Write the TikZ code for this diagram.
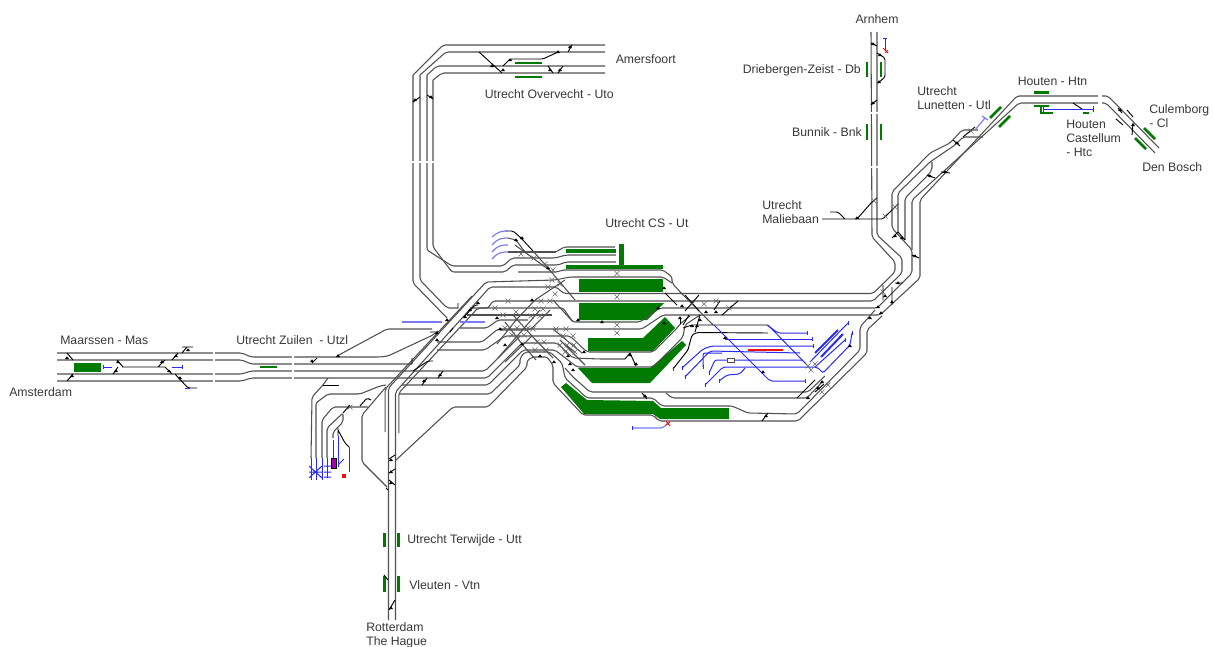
\documentclass[tikz,border=0pt]{standalone}
\usepackage{fontspec}
\setmainfont{Liberation Sans}
\definecolor{trk}{HTML}{505050}
\definecolor{plat}{HTML}{007A00}
\definecolor{yard}{HTML}{2A2AF0}
\definecolor{yardl}{HTML}{7A7AF5}
\definecolor{sig}{HTML}{F01010}
\tikzset{
 trk/.style={draw=trk,line width=0.8pt,rounded corners=1.6pt,line join=round},
 swt/.style={draw=black,line width=0.7pt,rounded corners=1.2pt},
 yd/.style={draw=yard,line width=0.75pt,rounded corners=1.6pt},
 ydl/.style={draw=yardl,line width=0.85pt,rounded corners=1.6pt},
 bar/.style={draw=plat,line width=1.9pt},
 lbl/.style={font=\fontsize{9.2pt}{10.4pt}\selectfont,text=black!78,inner sep=0pt,align=left},
 gp/.style={draw=white,line width=1.2pt}
}
\newcommand{\xm}[2]{\draw[draw=black!60,line width=0.5pt] (#1-2.5,#2-2.5)--(#1+2.5,#2+2.5) (#1-2.5,#2+2.5)--(#1+2.5,#2-2.5);}
\newcommand{\tip}[2]{\fill[black] (#1-2,#2+1)--(#1+2,#2+1)--(#1,#2-1.7)--cycle;}
\newcommand{\tend}[3]{\draw[#3,line width=0.6pt] (#1,#2-2)--(#1,#2+2);}
\begin{document}
\begin{tikzpicture}[x=0.75pt,y=-0.75pt]
\useasboundingbox (0,0) rectangle (1213,646);
% ---------- platforms
\fill[plat] (579,279) rectangle (663,292);
\fill[plat] (579,303)--(664,303)--(647,320)--(579,320)--cycle;
\fill[plat] (588,338)--(643,338)--(665,317)--(675,328)--(653,351)--(588,351)--cycle;
\fill[plat] (578,368)--(650,368)--(682,341)--(686,345)--(650,383)--(592,383)--cycle;
\fill[plat] (561,387)--(566,383)--(587,400)--(653,401)--(661,408)--(729,408)--(729,419)--(660,419)--(653,414)--(584,414)--cycle;
\fill[plat] (566,249) rectangle (616,253);
\fill[plat] (619,244) rectangle (624,266);
\fill[plat] (566,265) rectangle (663,268.5);
\fill[plat] (74,363) rectangle (101,372);
\draw[bar] (260,367)--(277,367);
\draw[bar] (515,63)--(542,63) (515,77)--(542,77);
\draw[bar] (867,62)--(867,77) (881,62)--(881,77) (867,124)--(867,140) (881,124)--(881,140);
\draw[bar] (384.5,533)--(384.5,547) (398.5,533)--(398.5,547) (384.5,576)--(384.5,592) (398.5,576)--(398.5,592);
\draw[bar] (1034,92.5)--(1049,92.5) (1034,106)--(1049,106) (1041,106)--(1041,113)--(1053,113) (1083,113)--(1089,113);
\draw[bar] (990,118)--(1001,107) (999,127)--(1010,116) (1144,128)--(1155,139) (1135,138)--(1146,149);
% ---------- west line
\draw[trk] (57,353)--(242,353)--(251,357)--(380,357)--(388,356)--(433,335)--(438,331);
\draw[trk] (57,360)--(242,360)--(251,364)--(412,364);
\draw[trk] (57,374)--(242,374)--(251,371)--(485,371)--(520,336);
\draw[trk] (57,381)--(242,381)--(251,378)--(487,378)--(522,343)--(557,343)--(573,358)--(600,359)--(625,359);
\draw[trk] (337,356)--(387,329)--(432,329);
\draw[trk] (402,385)--(488,385)--(523,350)--(555,350)--(577,367)--(653,367)--(683,337)--(685,325)--(700,315);
% ---------- double diagonal and verticals
\draw[trk] (413,75)--(443,45)--(605,45);
\draw[trk] (420,75)--(446,52)--(605,52);
\draw[trk] (427,75)--(437,66)--(605,66);
\draw[trk] (433,80)--(442,73)--(605,73);
\draw[trk] (413,75)--(413,283)--(447,318);
\draw[trk] (420,75)--(420,280)--(447,308)--(458,308);
\draw[trk] (427,75)--(427,250)--(452,266)--(503,266)--(512,258)--(555,258)--(566,255)--(616,255);
\draw[trk] (433,80)--(433,247)--(452,272)--(505,272)--(513,265)--(558,265)--(566,262)--(616,262);
\draw[trk] (385.2,432)--(385.2,389)--(472,296);
\draw[trk] (388.5,620)--(388.5,388)--(486,282)--(555,280)--(570,277)--(663,277)--(672,283);
\draw[trk] (395.5,620)--(395.5,392)--(490,287)--(556,287)--(564,293.5)--(873,293.5)--(895,272)--(895,262)--(872,237)--(871,32);
\draw[trk] (398.8,433)--(398.8,393)--(478,308)--(563,308)--(573,322)--(640,322)--(660,308)--(877,308)--(912,273)--(912,250)--(892,228)--(892,192)--(930,153)--(950,143)--(962,130)--(978,130);
% ---------- throat horizontals
\draw[trk] (470,308)--(488,308)--(493,301)--(873,301)--(902,273)--(902,258)--(877,235)--(877,32);
\draw[trk] (467,315)--(552,315);
\draw[trk] (460,328)--(487,328)--(498,320)--(528,320);
\draw[trk] (437,342)--(482,342)--(498,329)--(642,329)--(663,315)--(880,315)--(920,278)--(920,200)--(1017,96)--(1098,96);
\draw[trk] (437,350)--(485,350)--(505,336)--(570,336)--(587,352)--(653,352)--(678,327)--(680,324)--(690,316);
\draw[trk] (912,250)--(912,200)--(1019,103)--(1098,103);
\draw[trk] (898,232)--(898,193)--(930,162)--(955,145)--(963,137)--(983,137);
\draw[trk] (905,240)--(905,198)--(928,175)--(932,170)--(932,162);
\draw[trk] (1102,96)--(1108,96)--(1159,148) (1102,103)--(1106,103)--(1155,153);
\draw[trk] (875,310)--(860,327)--(860,350)--(797,414)--(748,413)--(732,406)--(662,406)--(653,398)--(587,398)--(565,378)--(562,363)--(550,352)--(525,352)--(520,358)--(520,365)--(490,394)--(399,394);
\draw[trk] (882,316)--(867,330)--(867,353)--(798,421)--(659,421)--(653,415)--(583,415)--(553,383)--(553,365)--(547,357)--(532,357)--(527,361)--(527,367)--(488,407)--(453,407)--(396,460);
\draw[trk] (565,368)--(573,377)--(590,392)--(808,392)--(825,376);
\draw[trk] (666,393)--(672,398)--(807,398)--(823,381);
\draw[trk] (518,272)--(558,272)--(562,270)--(663,270)--(672,277)--(672,283)--(682,294);
% Upper throat
\draw[swt] (505,231)--(513,231)--(521,238)--(533,251);
\draw[trk] (533,251)--(548,268)--(575,300);
\draw[trk] (508,238)--(516,240)--(525,252)--(556,252)--(564,247)--(615,247);
\draw[trk] (508,252)--(556,252);
\draw[trk] (515,245)--(552,272);
\draw[trk] (553,300)--(573,322) (513,315)--(532,336)--(553,358) (553,329)--(582,353) (505,322)--(522,344)--(536,360);
\draw[trk] (565,280)--(535,300)--(516,320)--(497,344) (550,310)--(530,330)--(500,330);
\draw[trk] (540,310)--(498,358) (532,336)--(505,362);
\draw[trk] (566,345)--(575,352) (560,340)--(585,365);
% east fan
\draw[trk] (680,292)--(713,325);
\draw[swt] (665,293)--(677,305) (685,295)--(699,311) (699,295)--(685,311) (720,301)--(714,310) (738,301)--(722,315) (689,315)--(683,325) (700,315)--(695,332);
\draw[swt] (683,328)--(692,325)--(767,325);
\draw[swt] (673,369)--(688,350)--(690,342)--(692,335)--(697,332.5)--(768,333);
\draw[swt] (680,324)--(680,318);
% ---------- Left-lower group
\draw[trk] (328,378)--(323,385)--(312,397)--(311,458);
\draw[swt] (323,385)--(339,385);
\draw[trk] (316,458)--(316,403)--(328,394)--(360,394)--(380,386)--(386,385);
\draw[trk] (322,458)--(322,420)--(333,407)--(368,407);
\draw[trk] (327,458)--(327,428)--(343,413)--(343,422)--(333,432)--(333,438);
\draw[trk] (386,387)--(362,415)--(362,462)--(387,487);
\draw[swt] (343,413)--(350,405) (360,406)--(367,398)--(371,400);
\draw[swt] (338,428)--(338,436) (338,430)--(345,443)--(349,447);
% ---------- crossovers and stubs
\draw[swt] (67,353)--(73,360) (67,381)--(73,374) (117,360)--(123,367) (113,374)--(118,367) (122,367)--(165,367) (178,353)--(172,360) (165,360)--(158,367) (165,367)--(172,374) (175,374)--(188,388)--(197,388) (182,347)--(193,347) (187,347)--(182,353);
\draw[swt] (312,363)--(317,358) (422,385)--(427,378) (438,378)--(443,371) (413,371)--(428,361)--(433,361);
\draw[swt] (430,332)--(436,332) (450,332)--(453,328) (464,317)--(475,305)--(478,305) (412,358)--(412,364) (458,308)--(458,303);
\draw[swt] (479,52)--(502,73) (503,66)--(510,59)--(543,59)--(558,52) (548,66)--(553,73) (563,66)--(558,73) (572,45)--(568,52);
\draw[swt] (413,102)--(420,97) (427,95)--(433,99);
\draw[swt] (871,43)--(877,46) (877,53)--(885,58)--(885,77)--(878,83) (871,105)--(877,100) (871,203)--(877,198);
\draw[swt] (822,219)--(883,219)--(892,210) (857,219)--(871,203) (892,210)--(898,204) (830,212)--(838,212)--(845,219);
\draw[swt] (892,238)--(898,232) (905,240)--(898,232) (912,255)--(919,258) (895,283)--(903,283) (883,285)--(883,300) (892,287)--(892,305);
\draw[swt] (927,175)--(935,178) (941,172)--(950,173) (953,140)--(960,146) (963,137)--(975,127);
\draw[swt] (1073,103)--(1082,109) (1118,108)--(1122,113) (1133,123)--(1132,135) (1127,110)--(1133,117) (1116,119)--(1123,125);
\draw[swt] (389,459)--(395,455) (389,473)--(395,469) (389,480)--(395,485) (389,610)--(395,600) (384,575)--(388,580) (386,488)--(388,490);
\draw[swt] (642,393)--(647,399) (630,353)--(625,359) (630,353)--(636,366);
\draw[swt] (797,398)--(815,380) (815,392)--(824,384);
\draw[swt] (762,421)--(768,413);
% ---------- yard
\draw[yd] (767,325)--(778,333)--(807,333);
\draw[yd] (725,339)--(812,339);
\draw[yd] (682,368)--(703,349)--(712,346)--(813,346);
\draw[yd] (685,377)--(710,351)--(800,353);
\draw[yd] (703,367)--(703,353)--(722,353);
\draw[yd] (709,373)--(715,360)--(727,360) (734,360)--(802,360);
\draw[yd] (705,385)--(723,367)--(817,367)--(823,373)--(850,345)--(852,333);
\draw[yd] (719,381)--(727,375)--(740,374)--(745,368);
\draw[yd] (714,325)--(763,374)--(770,381)--(805,381);
\draw[yd] (768,325)--(807,365);
\draw[yd] (810,362)--(848,323);
\draw[yd] (815,367)--(845,340);
\draw[yard,line width=1.5pt] (815,353)--(838,330) (821,357)--(843,334);
\foreach \a/\b in {807/333,812/339,813/346,805/381,673/369,682/368,685/377,703/367,709/373,705/385,719/381,848/323,845/340,852/333}{\tend{\a}{\b}{yard}}
\draw[draw=black!70,line width=0.6pt,fill=white] (727,358) rectangle (734,362);
\draw[sig,line width=2pt] (748,350)--(783,350);
\draw[ydl] (632,428)--(663,428)--(668,423);
\draw[sig,line width=0.7pt] (666,421)--(670,426) (666,425)--(670,422);
\draw[yd] (632,426)--(632,430);
% other blue
\draw[ydl] (492,237)--(497,233)--(503,231)--(508,231) (492,245)--(497,240)--(503,238)--(508,238) (492,252)--(497,247)--(503,245)--(508,245) (492,259)--(497,254)--(503,252)--(508,252);
\draw[ydl] (402,322)--(442,322) (460,322)--(485,322);
\draw[ydl] (975,130)--(985,118) (982,116)--(988,120);
\draw[yd] (1043,109)--(1093,109) (1043,106)--(1043,112) (1093,106)--(1093,112);
\draw[yd] (103,367)--(112,367) (172,367)--(182,367) (103,365)--(103,369) (182,365)--(182,369) (185,388)--(190,388);
\draw[yd] (311,458)--(311,480) (316,458)--(316,480) (322,458)--(322,480) (327,458)--(327,478) (333,440)--(333,458) (338,436)--(338,467) (349,447)--(349,472);
\draw[yd] (309,478)--(322,466) (309,466)--(322,478) (309,472)--(322,472) (324,466)--(331,466) (324,472)--(331,472) (324,477)--(331,477) (338,465)--(344,459);
\draw[yd] (885,38)--(885,50) (883,38)--(887,38);
\draw[sig,line width=0.7pt] (883,48)--(888,53) (885,53)--(888,50);
\fill[black] (330.5,457.5) rectangle (336.5,468.5);
\fill[violet!70!magenta] (331.5,458.5) rectangle (335.5,467.5);
\fill[sig] (342,474) rectangle (345.5,478);
% ---------- X marks
\foreach \a/\b in {617/273.5,617/297,617/325,617/333,521/254,534/258,545/264,553/270,552/280,548/287,560/284,555/294,550/301,541/301,535/309,543/309,531/316,540/316,505/328,517/328,528/328,512/335,524/335,533/329,556/329,566/329,563/336,573/336,537/342,544/342,535/350,546/350,560/345,567/345,574/345,565/352,575/352,495/308,508/301,503/315,516/312,692/304,704/304,716/301,729/308,883/292,811/370,808/366,815/364,822/392,828/385,874/201,885/216,895/207,971/131,350/407}{\xm{\a}{\b}}
% ---------- switch tips
\foreach \a/\b in {67/358,72/376,118/362,116/371,176/356,162/362,169/371,180/378,188/350,312/361,338/356,424/381,440/375,437/340,492/66,503/70,510/60,558/52,550/70,560/70,570/47,415/100,431/97,873/44,880/55,879/82,873/103,857/218,895/236,902/238,915/256,898/283,885/296,892/302,878/307,930/176,945/172,957/143,1120/110,1133/125,391/460,391/472,391/483,391/608,645/396,766/416,822/382,630/355,636/364,532/300,570/364,573/370,664/323,700/320,692/326,470/310,478/303,497/318,447/320,437/333,465/317,500/329,505/345,522/344,540/356,554/362,568/356,584/352,578/320,602/322,516/240,522/238,548/268,664/288,682/306,706/312,716/312,658/308,697/326,680/318,725/338,763/372,808/398,818/388,850/346,881/313,870/318}{\tip{\a}{\b}}
% ---------- gaps
\draw[gp] (214,350)--(214,384) (293,354)--(293,381);
\draw[gp] (410,162)--(436,162);
\draw[gp] (868,113)--(880,113) (868,167)--(880,167);
\draw[gp] (1100,92)--(1100,106);
% ---------- labels
\node[lbl] (arnhem) at (877,19) {Arnhem};
\node[lbl,anchor=west] (amersfoort) at (615.5,59) {Amersfoort};
\node[lbl,anchor=west] (overvecht) at (484.5,94) {Utrecht Overvecht - Uto};
\node[lbl,anchor=east] (driebergen) at (861,70) {Driebergen-Zeist - Db};
\node[lbl,anchor=east] (bunnik) at (862,132) {Bunnik - Bnk};
\node[lbl,anchor=north west] (lunetten) at (917,86) {Utrecht\\Lunetten - Utl};
\node[lbl,anchor=west] (houten) at (1017.5,81) {Houten - Htn};
\node[lbl,anchor=north west] (culemborg) at (1149,104) {Culemborg\\- Cl};
\node[lbl,anchor=north west] (castellum) at (1066,120) {Houten\\Castellum\\- Htc};
\node[lbl,anchor=west] (denbosch) at (1142,167) {Den Bosch};
\node[lbl,anchor=west] (cs) at (605,223) {Utrecht CS - Ut};
\node[lbl,anchor=north west] (maliebaan) at (762,200) {Utrecht\\Maliebaan};
\node[lbl,anchor=west] (maarssen) at (60,340) {Maarssen - Mas};
\node[lbl,anchor=west] (amsterdam) at (9,392) {Amsterdam};
\node[lbl,anchor=west] (zuilen) at (236,340) {Utrecht Zuilen\ \ - Utzl};
\node[lbl,anchor=west] (terwijde) at (407,540) {Utrecht Terwijde - Utt};
\node[lbl,anchor=west] (vleuten) at (409,585) {Vleuten - Vtn};
\node[lbl,anchor=north west] (rotterdam) at (366,622) {Rotterdam\\The Hague};
\end{tikzpicture}
\end{document}
